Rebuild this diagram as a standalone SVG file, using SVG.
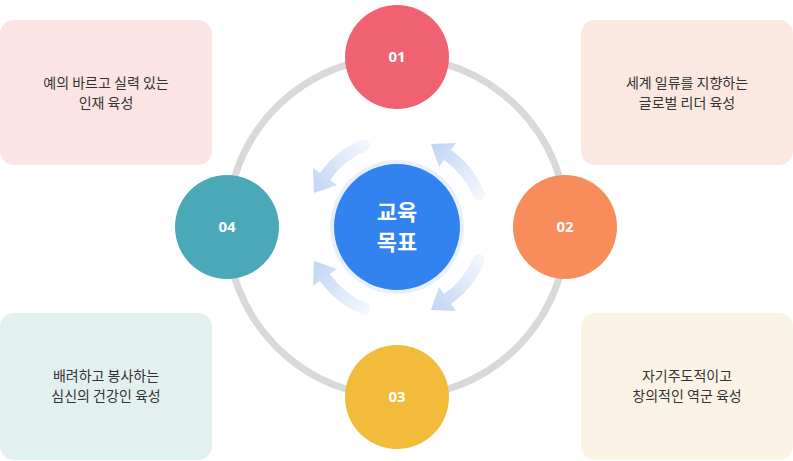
<svg xmlns="http://www.w3.org/2000/svg" width="793" height="461" viewBox="0 0 793 461">
<style>
.bt{font-family:"Noto Sans CJK KR","Noto Sans",sans-serif;font-size:14px;fill:#333;text-anchor:middle}
.nt{font-family:"Noto Sans","Noto Sans CJK KR",sans-serif;font-size:15px;font-weight:bold;fill:#fff;text-anchor:middle}
.ct{font-family:"Noto Sans CJK KR",sans-serif;font-size:22px;font-weight:bold;fill:#fff;text-anchor:middle}
</style>
<defs>
<linearGradient id="ag" gradientUnits="userSpaceOnUse" x1="366" y1="145" x2="318" y2="190">
<stop offset="0" stop-color="#f2f6fd"/><stop offset="1" stop-color="#c3d7f4"/>
</linearGradient>
<g id="arr" fill="url(#ag)">
<path d="M364,145.4 A88,88 0 0 0 325,176.5" fill="none" stroke="url(#ag)" stroke-width="12" stroke-linecap="round"/>
<polygon points="314,193 313,168 337,185"/>
</g>
</defs>
<rect width="793" height="461" fill="#fff"/>
<g id="box1"><rect x="0" y="20" width="212" height="145" rx="14" fill="#fce4e4"/><text class="bt" x="106" y="88">예의 바르고 실력 있는</text><text class="bt" x="106" y="108">인재 육성</text></g>
<g id="box2"><rect x="581" y="20" width="212" height="145" rx="14" fill="#fbe9e1"/><text class="bt" x="687" y="88">세계 일류를 지향하는</text><text class="bt" x="687" y="108">글로벌 리더 육성</text></g>
<g id="box3"><rect x="0" y="313" width="212" height="147" rx="14" fill="#e3f0f0"/><text class="bt" x="106" y="381">배려하고 봉사하는</text><text class="bt" x="106" y="401">심신의 건강인 육성</text></g>
<g id="box4"><rect x="581" y="313" width="212" height="147" rx="14" fill="#fbf4e6"/><text class="bt" x="687" y="381">자기주도적이고</text><text class="bt" x="687" y="401">창의적인 역군 육성</text></g>
<g id="connectors">
<circle cx="397" cy="227" r="170" fill="none" stroke="#d9d9d9" stroke-width="7"/>
<use href="#arr"/>
<use href="#arr" transform="rotate(90 397 227)"/>
<use href="#arr" transform="translate(0 454) scale(1 -1)"/>
<use href="#arr" transform="translate(0 454) scale(1 -1) rotate(90 397 227)"/>
</g>
<g id="center"><circle cx="397" cy="227" r="67" fill="#e8f0fc"/><circle cx="397" cy="227" r="63" fill="#3282f0"/><text class="ct" x="397" y="220">교육</text><text class="ct" x="397" y="250">목표</text></g>
<g id="n01"><circle cx="397" cy="57" r="52" fill="#f06272"/><text class="nt" x="397" y="62">01</text></g>
<g id="n02"><circle cx="565" cy="227" r="52" fill="#f88c5a"/><text class="nt" x="565" y="232">02</text></g>
<g id="n03"><circle cx="397" cy="397" r="52" fill="#f2bb3a"/><text class="nt" x="397" y="402">03</text></g>
<g id="n04"><circle cx="227" cy="227" r="52" fill="#4aa8b8"/><text class="nt" x="227" y="232">04</text></g>
</svg>
